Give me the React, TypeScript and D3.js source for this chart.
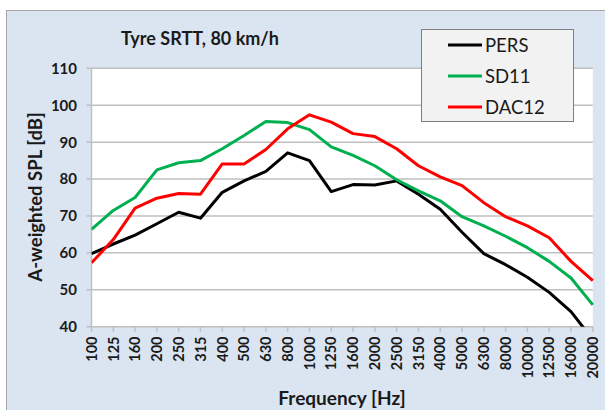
import React from "react";
import * as d3 from "d3";

const categories = ["100","125","160","200","250","315","400","500","630","800","1000","1250","1600","2000","2500","3150","4000","5000","6300","8000","10000","12500","16000","20000"];
const pers = [59.8,62.4,64.8,67.9,71.0,69.4,76.4,79.5,82.1,87.1,85.0,76.6,78.5,78.4,79.5,75.9,71.8,65.6,59.8,56.8,53.4,49.3,44.1,36.5];
const sd11 = [66.4,71.5,75.0,82.5,84.4,85.0,88.2,91.8,95.6,95.3,93.4,88.7,86.4,83.6,79.8,76.8,74.1,69.8,67.3,64.5,61.4,57.7,53.2,45.9];
const dac12 = [57.3,63.6,72.1,74.8,76.1,75.9,84.1,84.1,88.0,93.6,97.4,95.4,92.3,91.5,88.2,83.6,80.6,78.2,73.6,69.8,67.3,64.1,57.7,52.5];
const yTicks = [40,50,60,70,80,90,100,110];
const seriesNames = ["PERS","SD11","DAC12"];
const seriesColors = ["#000000","#00b050","#ff0000"];

const FONT = "Lato, 'Open Sans', sans-serif";

export default function App() {
  const W = 605, H = 410;
  const L = 91.5, R = 592.8, T = 68.3, B = 326.7;
  const x = d3.scalePoint<string>().domain(categories).range([L, R]).padding(0);
  const y = d3.scaleLinear().domain([40, 110]).range([B, T]);
  const line = d3.line<number>()
    .x((_, i) => x(categories[i]) as number)
    .y((d) => y(d));
  const allSeries = [pers, sd11, dac12];
  const gridColor = "#bfbfbf";
  return (
    <svg width={W} height={H} style={{ position: "absolute", left: 0, top: 0 }} fontFamily={FONT}>
      <defs>
        <clipPath id="plotClip">
          <rect x={L} y={T - 5} width={R - L + 2} height={B - T + 5} />
        </clipPath>
      </defs>
      <rect x={0} y={0} width={W} height={H} fill="#ffffff" />
      <rect x={6.5} y={10.5} width={W} height={H} fill="#dbe5f1" stroke="#a6a6a6" strokeWidth={1} />
      <rect x={L} y={T} width={R - L} height={B - T} fill="#ffffff" />
      {yTicks.filter((t) => t > 40).map((t) => (
        <line key={t} x1={L} x2={R} y1={y(t)} y2={y(t)} stroke={gridColor} strokeWidth={1.5} />
      ))}
      {yTicks.map((t) => (
        <g key={"yt" + t}>
          <line x1={L - 5} x2={L} y1={y(t)} y2={y(t)} stroke={gridColor} strokeWidth={1.5} />
          <text x={77} y={y(t)} dy="0.36em" textAnchor="end" fontSize={15} fontWeight="bold" fill="#1a1a1a">{t}</text>
        </g>
      ))}
      <line x1={L} x2={L} y1={T} y2={B} stroke={gridColor} strokeWidth={1.5} />
      <line x1={L} x2={R} y1={B} y2={B} stroke={gridColor} strokeWidth={1.5} />
      {categories.map((c) => (
        <g key={"xt" + c}>
          <line x1={x(c)} x2={x(c)} y1={B} y2={B + 5} stroke={gridColor} strokeWidth={1.5} />
          <text transform={`translate(${(x(c) as number)},${336.5}) rotate(-90)`} dy="0.36em" textAnchor="end" fontSize={14.5} fontWeight="bold" fill="#1a1a1a">{c}</text>
        </g>
      ))}
      <g clipPath="url(#plotClip)">
        {allSeries.map((s, i) => (
          <path key={i} d={line(s) || ""} fill="none" stroke={seriesColors[i]} strokeWidth={3} strokeLinejoin="round" />
        ))}
      </g>
      <text x={200} y={45} textAnchor="middle" fontSize={18} fontWeight="bold" fill="#1a1a1a">Tyre SRTT, 80 km/h</text>
      <text transform={`translate(35,197) rotate(-90)`} dy="0.36em" textAnchor="middle" fontSize={18.5} fontWeight="bold" fill="#1a1a1a">A-weighted SPL  [dB]</text>
      <text x={342} y={405} textAnchor="middle" fontSize={19} fontWeight="bold" fill="#1a1a1a">Frequency [Hz]</text>
      <rect x={421.5} y={29.5} width={152} height={92} fill="#f2f2f2" stroke="#7f7f7f" strokeWidth={1} />
      {seriesNames.map((n, i) => (
        <g key={n}>
          <line x1={448} x2={482} y1={45 + i * 31} y2={45 + i * 31} stroke={seriesColors[i]} strokeWidth={3} />
          <text x={485} y={45 + i * 31} dy="0.36em" fontSize={18.5} fill="#1a1a1a">{n}</text>
        </g>
      ))}
    </svg>
  );
}
